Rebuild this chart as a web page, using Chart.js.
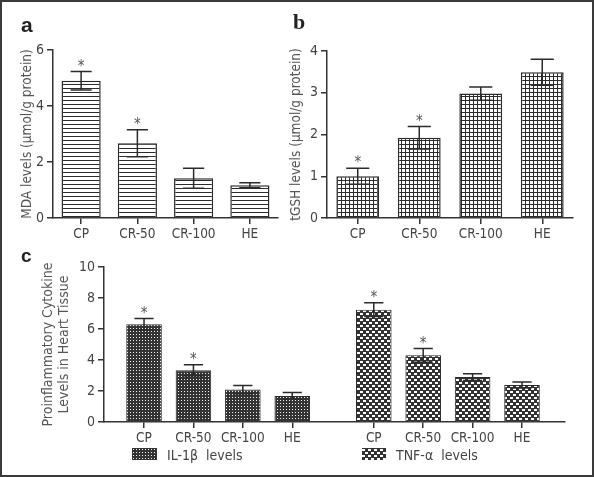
<!DOCTYPE html>
<html>
<head>
<meta charset="utf-8">
<script src="https://cdn.jsdelivr.net/npm/chart.js@4.4.1/dist/chart.umd.min.js"></script>
<style>
body { margin: 0; background: #fff; }
#frame { position: absolute; left: 0; top: 0; width: 594px; height: 477px; border: 2px solid #3a3a3a; box-sizing: border-box; }
canvas.panel { position: absolute; }
.letter { position: absolute; font-family: 'Liberation Sans', Arial, sans-serif; font-weight: bold; color: #222; line-height: 1; }
.legtext { position: absolute; font-family: 'Liberation Sans Narrow', 'DejaVu Sans Condensed', 'Arial Narrow', sans-serif; font-size: 14px; line-height: 18px; color: #444; white-space: pre; }
.swatch { position: absolute; }
</style>
</head>
<body>
<div id="frame"></div>
<canvas id="chartA" class="panel" style="left:0;top:0" width="290" height="245"></canvas>
<canvas id="chartB" class="panel" style="left:285px;top:0" width="304" height="245"></canvas>
<canvas id="chartC" class="panel" style="left:0;top:240px" width="594" height="237"></canvas>
<div class="letter" style="left:21px;top:14px;font-size:21px">a</div>
<div class="letter" style="left:293px;top:11px;font-size:22px;font-family:'Liberation Serif',serif">b</div>
<div class="letter" style="left:21px;top:246px;font-size:19px">c</div>
<canvas id="swatchIL" class="swatch" style="left:132px;top:448px" width="25" height="12"></canvas>
<span id="legIL" class="legtext" style="left:167px;top:446px"></span>
<canvas id="swatchTNF" class="swatch" style="left:362px;top:448px" width="24" height="12"></canvas>
<span id="legTNF" class="legtext" style="left:396px;top:446px"></span>
<script>
// data
const groups = ['CP', 'CR-50', 'CR-100', 'HE'];
const starred = [true, true, false, false];

const mdaValues = [4.9, 2.67, 1.42, 1.17];
const mdaErrors = [0.33, 0.48, 0.36, 0.09];
const mdaTicks = [0, 2, 4, 6];

const tgshValues = [1.0, 1.92, 2.98, 3.49];
const tgshErrors = [0.19, 0.27, 0.16, 0.31];
const tgshTicks = [0, 1, 2, 3, 4];

const il1bValues = [6.3, 3.34, 2.09, 1.68];
const il1bErrors = [0.37, 0.36, 0.26, 0.22];
const tnfValues = [7.25, 4.3, 2.9, 2.39];
const tnfErrors = [0.45, 0.44, 0.22, 0.19];
const cytokineTicks = [0, 2, 4, 6, 8, 10];
const cytokineLabels = ['IL-1\u03b2  levels', 'TNF-\u03b1  levels'];

const FONT = "'Liberation Sans Narrow', 'DejaVu Sans Condensed', 'Arial Narrow', sans-serif";
const DARK = '#2b2b2b';
const groupGap = 4.65; // where the second group starts on the x scale

function makePattern(kind) {
    const c = document.createElement('canvas');
    const g = c.getContext('2d');
    if (kind === 'hlines') {
        c.width = 4; c.height = 4;
        g.fillStyle = '#fff'; g.fillRect(0, 0, 4, 4);
        g.fillStyle = DARK; g.fillRect(0, 0, 4, 1);
    } else if (kind === 'grid') {
        c.width = 4; c.height = 4;
        g.fillStyle = '#fff'; g.fillRect(0, 0, 4, 4);
        g.fillStyle = DARK; g.fillRect(0, 0, 4, 1); g.fillRect(0, 0, 1, 4);
    } else if (kind === 'dots') {
        c.width = 3; c.height = 3;
        g.fillStyle = '#333'; g.fillRect(0, 0, 3, 3);
        g.fillStyle = '#f4f4f4'; g.fillRect(1, 1, 1, 1);
    } else {
        c.width = 6; c.height = 6;
        g.fillStyle = '#333'; g.fillRect(0, 0, 6, 6);
        g.fillStyle = '#fff'; g.fillRect(0, 1, 3, 2); g.fillRect(3, 4, 3, 2);
    }
    return g.createPattern(c, 'repeat');
}

// error bars + significance stars, placed with the chart's own y scale
const errorBars = {
    id: 'errorBars',
    afterDatasetsDraw(chart) {
        const ctx = chart.ctx;
        const y = chart.scales.y;
        chart.data.datasets.forEach((ds, di) => {
            const meta = chart.getDatasetMeta(di);
            meta.data.forEach((bar, i) => {
                const d = ds.data[i];
                const v = typeof d === 'object' ? d.y : d;
                const e = ds.errors[i];
                const top = y.getPixelForValue(v + e);
                const bot = y.getPixelForValue(v - e);
                const cap = bar.width * 0.27;
                ctx.save();
                ctx.strokeStyle = DARK;
                ctx.lineWidth = 1.5;
                ctx.beginPath();
                ctx.moveTo(bar.x, top); ctx.lineTo(bar.x, bot);
                ctx.moveTo(bar.x - cap, top); ctx.lineTo(bar.x + cap, top);
                ctx.moveTo(bar.x - cap, bot); ctx.lineTo(bar.x + cap, bot);
                ctx.stroke();
                if (ds.stars[i]) {
                    ctx.fillStyle = '#555';
                    ctx.font = '15px ' + FONT;
                    ctx.textAlign = 'center';
                    ctx.textBaseline = 'alphabetic';
                    ctx.fillText('*', bar.x, top - 1);
                }
                ctx.restore();
            });
        });
    }
};

function yScale(ticks, title, width, titlePad, titleSize) {
    return {
        min: ticks[0],
        max: ticks[ticks.length - 1],
        afterBuildTicks: s => { s.ticks = ticks.map(v => ({ value: v })); },
        ticks: { color: '#444', font: { family: FONT, size: 14 }, padding: 3 },
        grid: { drawOnChartArea: false, drawTicks: true, tickLength: 6, color: '#333', lineWidth: 1.5 },
        border: { display: true, color: '#333', width: 1.5 },
        title: { display: true, text: title, color: '#555', font: { family: FONT, size: titleSize, lineHeight: 1.15 }, padding: { top: titlePad, bottom: 0 } },
        afterFit: s => { s.width = width; }
    };
}

function xCategory(height) {
    return {
        offset: true,
        grid: { offset: false, drawOnChartArea: false, drawTicks: true, tickLength: 6, color: '#333', lineWidth: 1.5 },
        border: { display: true, color: '#333', width: 1.5 },
        ticks: { color: '#444', font: { family: FONT, size: 13.5 }, padding: 2, maxRotation: 0, autoSkip: false },
        afterFit: s => { s.height = height; }
    };
}

const baseOptions = {
    responsive: false,
    animation: false,
    plugins: { legend: { display: false }, tooltip: { enabled: false } }
};

new Chart(document.getElementById('chartA'), {
    type: 'bar',
    data: {
        labels: groups,
        datasets: [{
            data: mdaValues, errors: mdaErrors, stars: starred,
            backgroundColor: makePattern('hlines'), borderColor: DARK, borderWidth: 1.5,
            barPercentage: 0.87, categoryPercentage: 0.8
        }]
    },
    options: {
        ...baseOptions,
        layout: { padding: { left: 0, top: 50, right: 12, bottom: 0 } },
        scales: { x: xCategory(27), y: yScale(mdaTicks, 'MDA levels (\u00b5mol/g protein)', 53, 20, 13.5) }
    },
    plugins: [errorBars]
});

new Chart(document.getElementById('chartB'), {
    type: 'bar',
    data: {
        labels: groups,
        datasets: [{
            data: tgshValues, errors: tgshErrors, stars: starred,
            backgroundColor: makePattern('grid'), borderColor: DARK, borderWidth: 1.5,
            barPercentage: 0.87, categoryPercentage: 0.8
        }]
    },
    options: {
        ...baseOptions,
        layout: { padding: { left: 0, top: 51, right: 16, bottom: 0 } },
        scales: { x: xCategory(27), y: yScale(tgshTicks, 'tGSH levels (\u00b5mol/g protein)', 42, 4, 13.5) }
    },
    plugins: [errorBars]
});

const ilPattern = makePattern('dots');
const tnfPattern = makePattern('checker');
const ilPositions = groups.map((g, i) => i);
const tnfPositions = groups.map((g, i) => i + groupGap);
const cTickValues = ilPositions.concat(tnfPositions);
const cTickLabels = groups.concat(groups);

new Chart(document.getElementById('chartC'), {
    type: 'bar',
    data: {
        datasets: [{
            label: cytokineLabels[0],
            data: il1bValues.map((v, i) => ({ x: ilPositions[i], y: v })),
            errors: il1bErrors, stars: starred, grouped: false,
            backgroundColor: ilPattern, borderColor: DARK, borderWidth: 1
        }, {
            label: cytokineLabels[1],
            data: tnfValues.map((v, i) => ({ x: tnfPositions[i], y: v })),
            errors: tnfErrors, stars: starred, grouped: false,
            backgroundColor: tnfPattern, borderColor: DARK, borderWidth: 1
        }]
    },
    options: {
        ...baseOptions,
        layout: { padding: { left: 0, top: 27, right: 29, bottom: 0 } },
        scales: {
            x: {
                type: 'linear',
                min: -0.81,
                max: 8.52,
                offset: false,
                afterBuildTicks: s => { s.ticks = cTickValues.map(v => ({ value: v })); },
                grid: { offset: false, drawOnChartArea: false, drawTicks: true, tickLength: 6, color: '#333', lineWidth: 1.5 },
                border: { display: true, color: '#333', width: 1.5 },
                ticks: { color: '#444', font: { family: FONT, size: 13.5 }, padding: 2, maxRotation: 0, autoSkip: false,
                         callback: (v, i) => cTickLabels[i] },
                afterFit: s => { s.height = 55; }
            },
            y: yScale(cytokineTicks, ['Proinflammatory Cytokine', 'Levels in Heart Tissue'], 104, 40, 14)
        }
    },
    plugins: [errorBars]
});

function drawSwatch(id, pattern) {
    const c = document.getElementById(id);
    const g = c.getContext('2d');
    g.fillStyle = pattern;
    g.fillRect(0, 0, c.width, c.height);
}
drawSwatch('swatchIL', ilPattern);
drawSwatch('swatchTNF', tnfPattern);
document.getElementById('legIL').textContent = cytokineLabels[0];
document.getElementById('legTNF').textContent = cytokineLabels[1];
</script>
</body>
</html>
